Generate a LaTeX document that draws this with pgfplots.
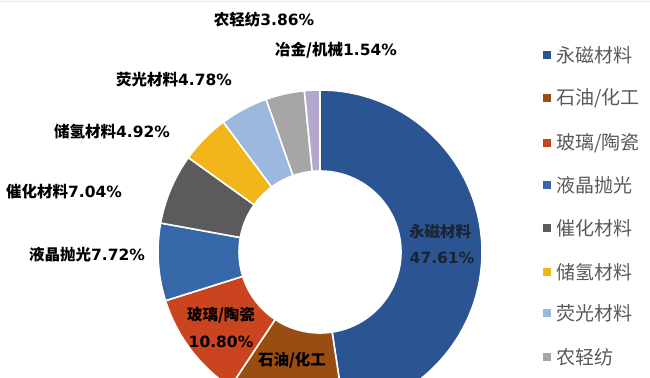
\documentclass[border=0pt]{standalone}
\usepackage{pgfplots}
\pgfplotsset{compat=1.18}
\usepackage{pgfplotstable}
\usepackage{fontspec}
\setmainfont{DejaVu Sans}
\newfontfamily\cjk{Noto Sans CJK SC}
\definecolor{c0}{HTML}{2B5592}
\definecolor{c1}{HTML}{9A4D12}
\definecolor{c2}{HTML}{C9441F}
\definecolor{c3}{HTML}{3667A8}
\definecolor{c4}{HTML}{5B5B5D}
\definecolor{c5}{HTML}{F2B61A}
\definecolor{c6}{HTML}{9DB8DE}
\definecolor{c7}{HTML}{A6A6A6}
\definecolor{c8}{HTML}{B4A6CC}
\definecolor{lg}{HTML}{595959}
\definecolor{lt}{HTML}{1C2433}
\pgfplotstableread{
value
47.61
11.73
10.80
7.72
7.04
4.92
4.78
3.86
1.54
}\datatable
\newcommand\lb[1]{{\fontsize{15.5bp}{18bp}\selectfont\bfseries #1}}
\newcommand\cj[1]{{\cjk #1}}
\newcommand\legitem[3]{%
  \fill[#1] (axis cs:543,#2-4) rectangle (axis cs:551,#2+4);
  \node[anchor=west,text=lg,inner sep=0pt] at (axis cs:556,#2) {\fontsize{19bp}{22bp}\selectfont\cjk #3};
}
\begin{document}
\begin{tikzpicture}
\begin{axis}[width=650bp,height=377bp,scale only axis,xmin=0,xmax=650,ymin=0,ymax=377,hide axis,clip=true]
\path (axis cs:0,0) rectangle (axis cs:650,377);
\def\cum{0}
\pgfplotsforeachungrouped \i in {0,...,8}{%
  \pgfplotstablegetelem{\i}{value}\of\datatable
  \let\val\pgfplotsretval
  \pgfmathsetmacro\va{90-3.6*\cum}
  \pgfmathsetmacro\vb{90-3.6*(\cum+\val)}
  \pgfmathsetmacro\cum{\cum+\val}
  \pgfmathsetmacro\ox{320+162*cos(\va)}
  \pgfmathsetmacro\oy{125+162*sin(\va)}
  \pgfmathsetmacro\ix{320+81*cos(\vb)}
  \pgfmathsetmacro\iy{125+81*sin(\vb)}
  \edef\temp{\noexpand\fill[fill=c\i,draw=white,line width=1.6pt] (axis cs:\ox,\oy) arc[start angle=\va,end angle=\vb,radius=162bp] -- (axis cs:\ix,\iy) arc[start angle=\vb,end angle=\va,radius=81bp] -- cycle;}%
  \temp
}
% top faint line
\draw[black!8,line width=1bp] (axis cs:0,375) -- (axis cs:650,375);
% labels
\node at (axis cs:264,357) {\lb{\cj{农轻纺}3.86\%}};
\node at (axis cs:336,327) {\lb{\cj{冶金/机械}1.54\%}};
\node at (axis cs:174,297) {\lb{\cj{荧光材料}4.78\%}};
\node at (axis cs:112,245) {\lb{\cj{储氢材料}4.92\%}};
\node at (axis cs:64,185) {\lb{\cj{催化材料}7.04\%}};
\node at (axis cs:87,122) {\lb{\cj{液晶抛光}7.72\%}};
\node at (axis cs:221,62) {\lb{\cj{玻璃/陶瓷}}};
\node at (axis cs:221,35) {\lb{10.80\%}};
\node at (axis cs:292,17) {\lb{\cj{石油/化工}}};
\node[text=lt] at (axis cs:440,145) {\lb{\cj{永磁材料}}};
\node[text=lt] at (axis cs:442,119) {\lb{47.61\%}};
% legend
\legitem{c0}{322}{永磁材料}
\legitem{c1}{279}{石油/化工}
\legitem{c2}{234}{玻璃/陶瓷}
\legitem{c3}{192}{液晶抛光}
\legitem{c4}{149}{催化材料}
\legitem{c5}{105}{储氢材料}
\legitem{c6}{64}{荧光材料}
\legitem{c7}{20}{农轻纺}
\end{axis}
\end{tikzpicture}
\end{document}
